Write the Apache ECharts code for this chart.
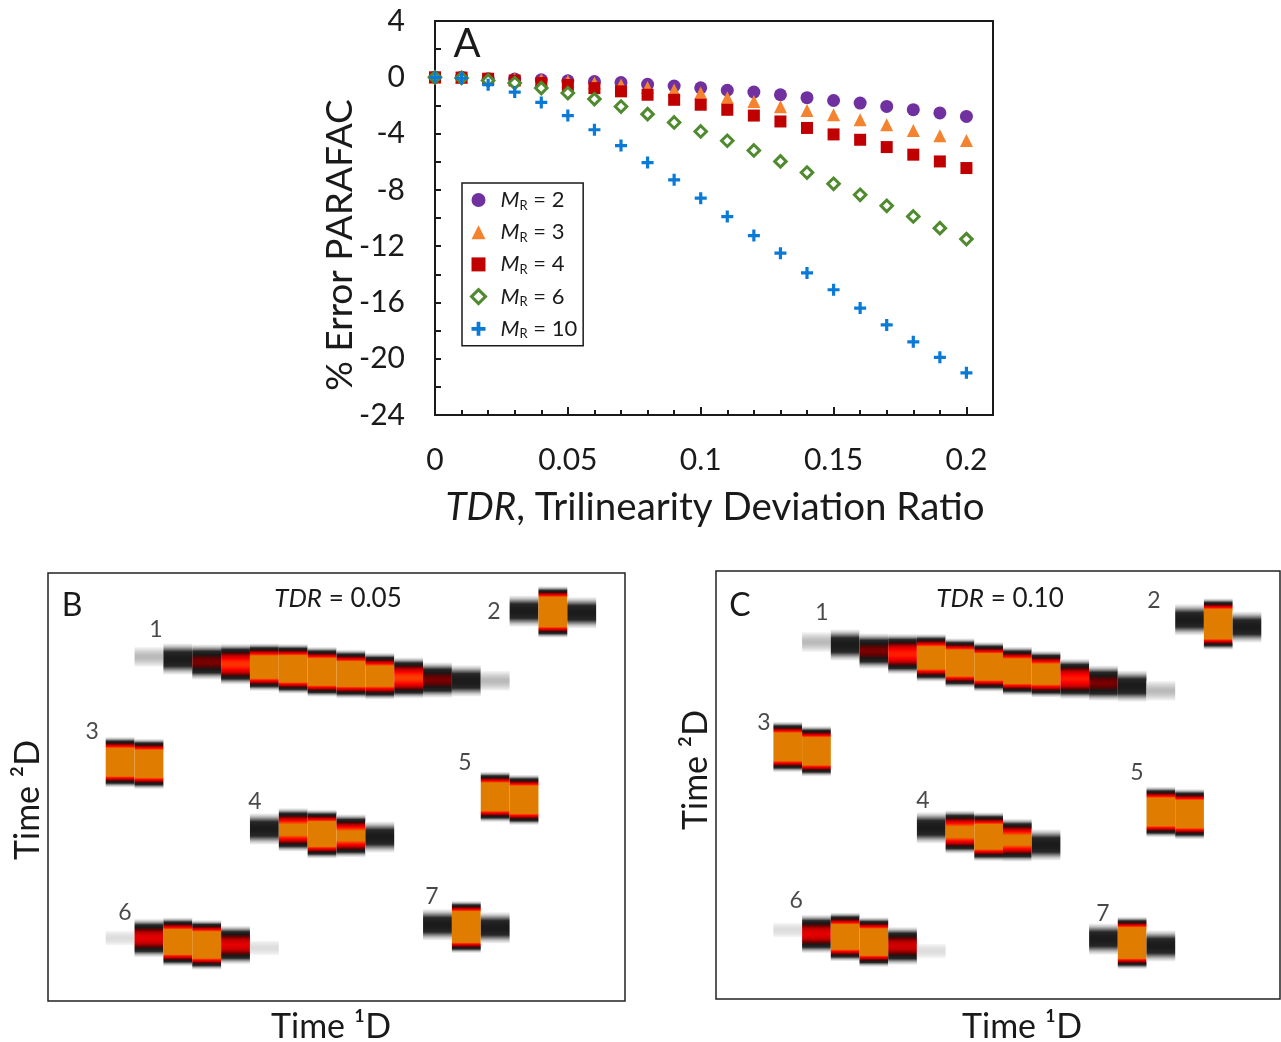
<!DOCTYPE html>
<html>
<head>
<meta charset="utf-8">
<script src="https://cdn.jsdelivr.net/npm/echarts@6/dist/echarts.min.js"></script>
<style>
  html, body { margin: 0; padding: 0; background: #fff; }
  #chart { width: 1281px; height: 1042px; }
</style>
</head>
<body>
<div id="chart"></div>
<script>
// ---------- Panel A: % error of PARAFAC vs trilinearity deviation ratio ----------
const tdr = [0, 0.01, 0.02, 0.03, 0.04, 0.05, 0.06, 0.07, 0.08, 0.09, 0.10,
             0.11, 0.12, 0.13, 0.14, 0.15, 0.16, 0.17, 0.18, 0.19, 0.20];
const errMR2  = [0, 0, -0.1, -0.13, -0.18, -0.25, -0.3, -0.37, -0.5, -0.62, -0.75,
                 -0.92, -1.05, -1.24, -1.45, -1.65, -1.83, -2.07, -2.3, -2.53, -2.78];
const errMR3  = [0, -0.01, -0.05, -0.1, -0.18, -0.28, -0.4, -0.55, -0.72, -0.9, -1.12,
                 -1.45, -1.72, -2.1, -2.36, -2.67, -3.02, -3.38, -3.78, -4.16, -4.5];
const errMR4  = [0, -0.02, -0.1, -0.23, -0.41, -0.55, -0.77, -1.0, -1.24, -1.6, -1.95,
                 -2.31, -2.72, -3.14, -3.6, -4.06, -4.44, -4.96, -5.5, -5.98, -6.45];
const errMR6  = [0, -0.05, -0.23, -0.41, -0.77, -1.12, -1.55, -2.08, -2.62, -3.21, -3.85,
                 -4.51, -5.2, -5.98, -6.77, -7.57, -8.35, -9.13, -9.89, -10.72, -11.5];
const errMR10 = [0, -0.07, -0.53, -1.05, -1.79, -2.72, -3.73, -4.85, -6.06, -7.29, -8.59,
                 -9.9, -11.25, -12.5, -13.9, -15.1, -16.4, -17.6, -18.8, -19.9, -21.0];
const modRatios = [2, 3, 4, 6, 10];
const yTicksA = [4, 0, -4, -8, -12, -16, -20, -24];
const xTicksA = [0, 0.05, 0.1, 0.15, 0.2];

// ---------- Panels B and C: simulated GC×GC chromatograms ----------
// Each peak: first 1D modulation column, then per column the 2D apex time
// (arbitrary 0–100 units) and the column's apex height (1 = colour saturation).
const peakIds = ['1', '2', '3', '4', '5', '6', '7'];

const startColB = [3, 16, 2, 7, 15, 2, 13];
const apexB = [
  [80.4, 79.9, 79.2, 78.7, 78.0, 77.6, 76.9, 76.4, 75.9, 75.5, 75.0, 74.8, 74.8],
  [91.1, 90.9, 90.7],
  [55.8, 55.4],
  [40.2, 40.0, 39.0, 38.6, 38.3],
  [47.7, 47.0],
  [14.7, 14.7, 13.8, 13.1, 13.1, 12.4],
  [17.8, 17.3, 17.1]
];
const heightB = [
  [0.12, 0.3, 0.45, 0.85, 2.2, 3.0, 3.1, 2.6, 1.9, 0.88, 0.45, 0.3, 0.12],
  [0.3, 4.0, 0.3],
  [3.4, 3.3],
  [0.3, 1.2, 2.6, 1.15, 0.3],
  [3.4, 3.3],
  [0.09, 0.65, 2.6, 3.0, 0.65, 0.09],
  [0.3, 4.5, 0.3]
];
const labelAtB = [[3.74, 86.7], [15.46, 91.1], [1.53, 62.9], [7.17, 46.5],
                  [14.45, 55.6], [2.67, 20.6], [13.31, 24.3]];

const startColC = [3, 16, 2, 7, 15, 2, 13];
const apexC = [
  [83.4, 82.7, 81.3, 80.6, 79.7, 78.5, 77.6, 76.6, 75.9, 74.8, 73.8, 73.1, 72.0],
  [88.6, 87.6, 86.9],
  [58.9, 57.9],
  [40.0, 39.0, 37.9, 37.1, 36.0],
  [43.7, 43.2],
  [16.1, 15.2, 14.5, 13.3, 12.4, 11.2],
  [14.0, 13.1, 12.4]
];
const heightC = [
  [0.12, 0.3, 0.45, 0.8, 2.2, 2.9, 3.0, 2.6, 1.9, 0.78, 0.45, 0.3, 0.12],
  [0.3, 4.0, 0.3],
  [3.4, 3.3],
  [0.3, 1.2, 2.6, 1.15, 0.3],
  [3.4, 3.3],
  [0.09, 0.65, 2.6, 3.0, 0.6, 0.09],
  [0.3, 4.5, 0.3]
];
const labelAtC = [[3.69, 90.2], [15.26, 93.2], [1.67, 64.7], [7.21, 46.3],
                  [14.67, 52.8], [2.79, 22.9], [13.48, 19.9]];

// 2D peak width (gaussian sigma, in 2D axis units) and the visibility floor
const SIGMA_2D = 2.1;
const FLOOR = 0.065;

// white → grey → black → dark red → red → orange colour scale
const HEAT = [
  [0.00, [255, 255, 255]],
  [0.065, [248, 248, 248]],
  [0.11, [200, 200, 200]],
  [0.16, [128, 128, 128]],
  [0.22, [40, 40, 40]],
  [0.32, [24, 24, 24]],
  [0.42, [100, 0, 0]],
  [0.55, [190, 0, 0]],
  [0.72, [255, 0, 0]],
  [0.88, [250, 62, 0]],
  [1.00, [224, 124, 0]]
];
function heat(v) {
  v = Math.max(0, Math.min(1, v));
  for (let i = 1; i < HEAT.length; i++) {
    if (v <= HEAT[i][0]) {
      const [a, ca] = HEAT[i - 1], [b, cb] = HEAT[i];
      const t = (v - a) / (b - a);
      const c = ca.map((x, k) => Math.round(x + (cb[k] - x) * t));
      return 'rgb(' + c.join(',') + ')';
    }
  }
  return 'rgb(224,124,0)';
}

function columnsOf(startCol, apex, height) {
  const out = [];
  apex.forEach((cols, p) => {
    cols.forEach((y, k) => out.push([startCol[p] + k, y, height[p][k]]));
  });
  return out;
}

// one modulation column: a rect with a vertical colour gradient of its 2D profile
function renderColumn(params, api) {
  const col = api.value(0), yc = api.value(1), amp = api.value(2);
  const l = api.coord([col, yc]);
  const r = api.coord([col + 1, yc]);
  const sigma = api.size([0, SIGMA_2D])[1];
  const half = sigma * Math.sqrt(2 * Math.log(amp / FLOOR));
  const stops = [];
  const N = 90;
  for (let i = 0; i <= N; i++) {
    const t = i / N;
    const d = (2 * t - 1) * half / sigma;
    stops.push({ offset: t, color: heat(amp * Math.exp(-d * d / 2)) });
  }
  return {
    type: 'rect',
    shape: { x: l[0], y: l[1] - half, width: r[0] - l[0], height: 2 * half },
    style: { fill: new echarts.graphic.LinearGradient(0, 0, 0, 1, stops) },
    silent: true
  };
}

const FONT = 'Lato';
const INK = '#1a1a1a';

const chart = echarts.init(document.getElementById('chart'), null, { renderer: 'canvas' });

const symbolsA = [
  { symbol: 'circle', size: 13, style: { color: '#7030A0', opacity: 1 } },
  { symbol: 'triangle', size: 13, style: { color: '#F4822F', opacity: 1 } },
  { symbol: 'rect', size: 12, style: { color: '#C00000', opacity: 1 } },
  { symbol: 'diamond', size: 11.5, style: { color: '#ffffff', borderColor: '#4F8A2E', borderWidth: 3, opacity: 1 } },
  { symbol: 'path://M4.4,0h3.2v4.4h4.4v3.2h-4.4v4.4h-3.2v-4.4h-4.4v-3.2h4.4z', size: 12, style: { color: '#0A7AD6', opacity: 1 } }
];
const errSeries = [errMR2, errMR3, errMR4, errMR6, errMR10];

const seriesA = errSeries.map((vals, i) => ({
  name: 'MR' + modRatios[i],
  type: 'scatter',
  xAxisIndex: 0,
  yAxisIndex: 0,
  symbol: symbolsA[i].symbol,
  symbolSize: symbolsA[i].size,
  itemStyle: symbolsA[i].style,
  data: tdr.map((x, k) => [x, vals[k]]),
  z: 3 + i
}));

function labelSeries(xIdx, yIdx, at) {
  return {
    type: 'scatter',
    xAxisIndex: xIdx, yAxisIndex: yIdx,
    symbolSize: 1,
    itemStyle: { color: 'rgba(0,0,0,0)' },
    silent: true,
    label: {
      show: true, position: 'inside',
      formatter: p => p.value[2],
      fontFamily: FONT, fontSize: 23, color: INK
    },
    data: at.map((pos, i) => [pos[0], pos[1], peakIds[i]]),
    z: 10
  };
}

const hiddenAxis = (grid, max) => ({
  gridIndex: grid, type: 'value', min: 0, max: max,
  axisLine: { show: false }, axisTick: { show: false },
  axisLabel: { show: false }, splitLine: { show: false }
});

const italicRich = size => ({ i: { fontFamily: FONT, fontStyle: 'italic', fontSize: size, fill: INK } });

const option = {
  animation: false,
  backgroundColor: '#ffffff',
  textStyle: { fontFamily: FONT, color: INK },
  grid: [
    { left: 435, top: 21, width: 558, height: 394, show: true, borderColor: INK, borderWidth: 2 },
    { left: 48, top: 573, width: 577, height: 428, show: true, borderColor: '#222', borderWidth: 1.5 },
    { left: 716, top: 571, width: 564, height: 428, show: true, borderColor: '#222', borderWidth: 1.5 }
  ],
  xAxis: [
    {
      gridIndex: 0, type: 'value', position: 'bottom', min: 0, max: 0.21, interval: 0.01,
      axisLine: { show: true, onZero: false, lineStyle: { color: INK, width: 2 } },
      axisTick: { show: true, inside: true, length: 5, lineStyle: { color: INK, width: 2 } },
      axisLabel: { show: false }, splitLine: { show: false }
    },
    {
      gridIndex: 0, type: 'value', position: 'bottom', min: 0, max: 0.21, interval: 0.05,
      axisLine: { show: false, onZero: false },
      axisTick: { show: true, inside: true, length: 8, lineStyle: { color: INK, width: 2 } },
      axisLabel: {
        show: true, margin: 30, fontSize: 30, color: INK, fontFamily: FONT,
        formatter: v => (xTicksA.some(t => Math.abs(t - v) < 1e-9) ? String(+v.toFixed(2)) : '')
      },
      splitLine: { show: false }
    },
    hiddenAxis(1, 20),
    hiddenAxis(2, 564 / 28.7)
  ],
  yAxis: [
    {
      gridIndex: 0, type: 'value', min: -24, max: 4, interval: 2,
      axisLine: { show: true, onZero: false, lineStyle: { color: INK, width: 2 } },
      axisTick: { show: true, inside: true, length: 6, lineStyle: { color: INK, width: 2 } },
      axisLabel: {
        show: true, margin: 30, fontSize: 30, color: INK, fontFamily: FONT,
        formatter: v => (yTicksA.indexOf(Math.round(v)) >= 0 && Math.abs(v - Math.round(v)) < 1e-9 ? String(Math.round(v)) : '')
      },
      splitLine: { show: false }
    },
    hiddenAxis(1, 100),
    hiddenAxis(2, 100)
  ],
  legend: {
    orient: 'vertical',
    left: 462, top: 183,
    padding: [6, 6, 5, 8],
    itemGap: 9.2,
    itemWidth: 14, itemHeight: 14,
    borderColor: INK, borderWidth: 1.5,
    backgroundColor: '#fff',
    data: modRatios.map((m, i) => ({ name: 'MR' + m, itemStyle: symbolsA[i].style })),
    formatter: name => '{m|M}{r|R}{t| = ' + name.slice(2) + '}',
    textStyle: {
      rich: {
        m: { fontFamily: FONT, fontStyle: 'italic', fontSize: 22, lineHeight: 24, color: INK, padding: [0, 0, 0, 10] },
        r: { fontFamily: FONT, fontSize: 13, lineHeight: 12, verticalAlign: 'bottom', color: INK },
        t: { fontFamily: FONT, fontSize: 22, lineHeight: 24, color: INK }
      }
    }
  },
  graphic: [
    { type: 'text', x: 467, y: 44, style: { text: 'A', fontFamily: FONT, fontSize: 40, fill: INK, align: 'center', verticalAlign: 'middle' } },
    { type: 'text', x: 340, y: 245, rotation: Math.PI / 2,
      style: { text: '% Error PARAFAC', fontFamily: FONT, fontSize: 37, fill: INK, align: 'center', verticalAlign: 'middle' } },
    { type: 'text', x: 715, y: 508,
      style: {
        text: '{i|TDR}, Trilinearity Deviation Ratio', fontFamily: FONT, fontSize: 38.5, fill: INK,
        align: 'center', verticalAlign: 'middle', rich: italicRich(38.5)
      } },
    { type: 'text', x: 72, y: 606, style: { text: 'B', fontFamily: FONT, fontSize: 32, fill: INK, align: 'center', verticalAlign: 'middle' } },
    { type: 'text', x: 740, y: 606, style: { text: 'C', fontFamily: FONT, fontSize: 32, fill: INK, align: 'center', verticalAlign: 'middle' } },
    { type: 'text', x: 338, y: 599,
      style: { text: '{i|TDR} = 0.05', fontFamily: FONT, fontSize: 26, fill: INK, align: 'center', verticalAlign: 'middle', rich: italicRich(26) } },
    { type: 'text', x: 1000, y: 599,
      style: { text: '{i|TDR} = 0.10', fontFamily: FONT, fontSize: 26, fill: INK, align: 'center', verticalAlign: 'middle', rich: italicRich(26) } },
    { type: 'text', x: 331, y: 1027, style: { text: 'Time \u00B9D', fontFamily: FONT, fontSize: 34, fill: INK, align: 'center', verticalAlign: 'middle' } },
    { type: 'text', x: 1022, y: 1027, style: { text: 'Time \u00B9D', fontFamily: FONT, fontSize: 34, fill: INK, align: 'center', verticalAlign: 'middle' } },
    { type: 'text', x: 28, y: 800, rotation: Math.PI / 2,
      style: { text: 'Time \u00B2D', fontFamily: FONT, fontSize: 34, fill: INK, align: 'center', verticalAlign: 'middle' } },
    { type: 'text', x: 696, y: 770, rotation: Math.PI / 2,
      style: { text: 'Time \u00B2D', fontFamily: FONT, fontSize: 34, fill: INK, align: 'center', verticalAlign: 'middle' } }
  ],
  series: seriesA.concat([
    {
      type: 'custom', xAxisIndex: 2, yAxisIndex: 1,
      renderItem: renderColumn,
      data: columnsOf(startColB, apexB, heightB),
      silent: true
    },
    {
      type: 'custom', xAxisIndex: 3, yAxisIndex: 2,
      renderItem: renderColumn,
      data: columnsOf(startColC, apexC, heightC),
      silent: true
    },
    labelSeries(2, 1, labelAtB),
    labelSeries(3, 2, labelAtC)
  ])
};

chart.setOption(option);
</script>
</body>
</html>
